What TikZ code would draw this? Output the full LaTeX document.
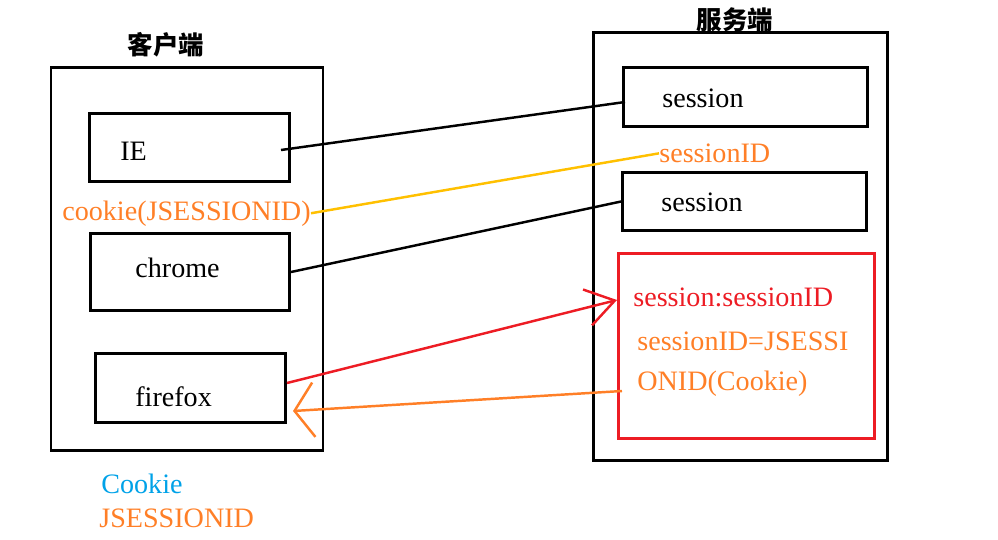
\documentclass[tikz,border=0pt]{standalone}
\usepackage{fontspec}
\setmainfont{Liberation Serif}
\newfontfamily\cjk{Noto Sans CJK SC}
\usepackage{xcolor}
\usetikzlibrary{positioning,calc,arrows.meta}

\definecolor{paintorange}{HTML}{FF7F27}
\definecolor{paintred}{HTML}{ED1C24}
\definecolor{paintyellow}{HTML}{FFC000}
\definecolor{paintblue}{HTML}{00A2E8}

\tikzset{
    box/.style={draw, line width=1.7pt, inner sep=0pt},
    sz/.style 2 args={minimum width=#1*0.02cm, minimum height=#2*0.02cm},
    lbl/.style={font=\fontsize{16}{19}\selectfont, inner sep=0pt, anchor=base west},
    title/.style={font=\cjk\bfseries\fontsize{14.5}{17}\selectfont, inner sep=0pt},
    link/.style={line width=1.4pt},
}

\begin{document}
\begin{tikzpicture}[x=0.02cm, y=-0.02cm]
    \useasboundingbox (0,0) rectangle (998,539);

    % Client side
    \node[title] (clienttitle) at (166,45) {客户端};
    \node[box, sz={272}{383}] (client) at (187,259) {};
    \node[box, sz={200}{68}] (ie) at (189.5,147.5) {};
    \node[box, sz={199}{77}] (chrome) at (190,272) {};
    \node[box, sz={190}{69}] (firefox) at (190.5,388) {};
    \node[lbl] (ietxt) at (120,160) {IE};
    \node[lbl] (chrometxt) at (135,277) {chrome};
    \node[lbl] (firefoxtxt) at (135,406) {firefox};
    \node[lbl, text=paintorange] (cookie) at (62,220) {cookie(JSESSIONID)};
    \node[lbl, text=paintblue] (cookienote) at (101,493) {Cookie};
    \node[lbl, text=paintorange] (jsessnote) at (99,527) {JSESSIONID};

    % Server side
    \node[title] (servertitle) at (735,20) {服务端};
    \node[box, sz={294}{428}] (server) at (740.5,246.5) {};
    \node[box, sz={244}{59}] (sess1) at (745.5,97) {};
    \node[box, sz={244}{58}] (sess2) at (744.5,201.5) {};
    \node[box, draw=paintred, sz={256}{185}] (redbox) at (746.5,346) {};
    \node[lbl] (sess1txt) at (662,107) {session};
    \node[lbl] (sess2txt) at (661,211.5) {session};
    \node[lbl, text=paintorange] (sessid) at (659,162.5) {sessionID};
    \node[lbl, text=paintred] (sidtxt) at (633,306) {session:sessionID};
    \node[lbl, text=paintorange] (eqtxt1) at (637,350) {sessionID=JSESSI};
    \node[lbl, text=paintorange] (eqtxt2) at (637,390) {ONID(Cookie)};

    % Ends of the links
    \coordinate (ieout) at (281,150);
    \coordinate (sess1in) at (625,102);
    \coordinate (ffout) at (287,383);
    \coordinate (redin) at (617,300);
    \coordinate (redout) at (622,391);
    \coordinate (ffin) at (293,411);

    % Links
    \draw[link] (ieout) -- (sess1in);
    \draw[link, paintyellow] (cookie.east) -- (sessid.west);
    \draw[link] (chrome.east) -- (sess2.west);
    \draw[link, paintred, -{Straight Barb[length=16pt, width=21pt]}] (ffout) -- (redin);
    \draw[link, paintorange, -{Straight Barb[length=11pt, width=31pt]}] (redout) -- (ffin);
\end{tikzpicture}
\end{document}
